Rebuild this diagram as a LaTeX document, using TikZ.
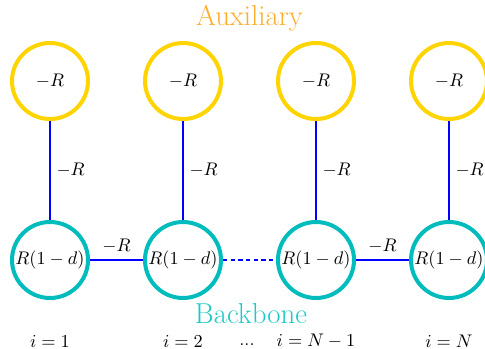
\documentclass[tikz,border=0pt]{standalone}
\usepackage{tikz}
\usetikzlibrary{positioning}
\definecolor{auxGold}{RGB}{255,212,0}
\definecolor{auxOrange}{RGB}{255,172,40}
\definecolor{bbTeal}{RGB}{0,188,188}
\definecolor{bbTealText}{RGB}{30,200,200}
\newcommand{\labfont}{\fontsize{11.3}{13.6}\selectfont}
\tikzset{
  auxnode/.style={circle, draw=auxGold, line width=2.4pt, minimum size=45.6pt, inner sep=0pt, font=\labfont},
  bbnode/.style={circle, draw=bbTeal, line width=2.4pt, minimum size=45.6pt, inner sep=0pt, font=\labfont},
  link/.style={draw=blue, line width=1.2pt},
  linkdash/.style={draw=blue, line width=1.2pt, dash pattern=on 2.6pt off 2pt},
  sitelabel/.style={font=\labfont}
}
\begin{document}
\begin{tikzpicture}[x=0.6pt,y=-0.6pt]
    \useasboundingbox (0,0) rectangle (485,349);
    \node[auxnode] (a1) at (50,81) {$-R$};
    \node[auxnode] (a2) at (183,81) {$-R$};
    \node[auxnode] (a3) at (316,81) {$-R$};
    \node[auxnode] (a4) at (449,81) {$-R$};
    \node[bbnode] (b1) at (50,260) {$R(1-d)$};
    \node[bbnode] (b2) at (183,260) {$R(1-d)$};
    \node[bbnode] (b3) at (316,260) {$R(1-d)$};
    \node[bbnode] (b4) at (449,260) {$R(1-d)$};
    \draw[link] (a1) -- node[right, font=\labfont] {$-R$} (b1);
    \draw[link] (a2) -- node[right, font=\labfont] {$-R$} (b2);
    \draw[link] (a3) -- node[right, font=\labfont] {$-R$} (b3);
    \draw[link] (a4) -- node[right, font=\labfont] {$-R$} (b4);
    \draw[link] (b1) -- node[above, font=\labfont] {$-R$} (b2);
    \draw[linkdash] (b2) -- (b3);
    \draw[link] (b3) -- node[above, font=\labfont] {$-R$} (b4);
    \node[text=auxOrange, font=\LARGE] (auxtitle) at (249.5,18) {Auxiliary};
    \node[text=bbTealText, font=\LARGE] (bbtitle) at (251,314) {Backbone};
    \node[sitelabel] (i1) at (50,341) {$i=1$};
    \node[sitelabel] (i2) at (183,341) {$i=2$};
    \node[sitelabel] (idots) at (247,345) {...};
    \node[sitelabel] (i3) at (316,341) {$i=N-1$};
    \node[sitelabel] (i4) at (449,341) {$i=N$};
  \end{tikzpicture}
\end{document}
